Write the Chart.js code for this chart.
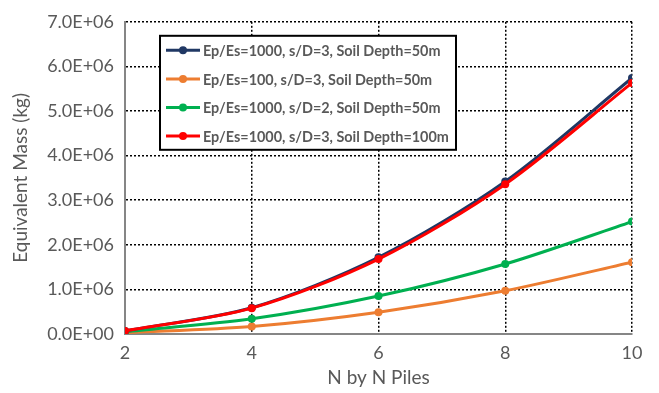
<!DOCTYPE html>
<html>
<head>
<meta charset="utf-8">
<script src="https://cdn.jsdelivr.net/npm/chart.js@4"></script>
<style>
html,body{margin:0;padding:0;background:#fff;}
#wrap{width:659px;height:393px;}
</style>
</head>
<body>
<div id="wrap"><canvas id="c" width="659" height="393"></canvas></div>
<script>
const nPiles = [2, 4, 6, 8, 10];
const seriesLabels = [
  "Ep/Es=1000, s/D=3, Soil Depth=50m",
  "Ep/Es=100, s/D=3, Soil Depth=50m",
  "Ep/Es=1000, s/D=2, Soil Depth=50m",
  "Ep/Es=1000, s/D=3, Soil Depth=100m"
];
const ep1000_sd3_50m  = [0.07e6, 0.59e6, 1.72e6, 3.42e6, 5.74e6];
const ep100_sd3_50m   = [0.03e6, 0.17e6, 0.49e6, 0.97e6, 1.61e6];
const ep1000_sd2_50m  = [0.05e6, 0.34e6, 0.85e6, 1.57e6, 2.52e6];
const ep1000_sd3_100m = [0.07e6, 0.58e6, 1.68e6, 3.36e6, 5.63e6];
const yTickValues = [0, 1e6, 2e6, 3e6, 4e6, 5e6, 6e6, 7e6];
const xTickValues = [2, 4, 6, 8, 10];

const colors = ["#203864", "#ED7D31", "#00B050", "#FF0000"];
const allSeries = [ep1000_sd3_50m, ep100_sd3_50m, ep1000_sd2_50m, ep1000_sd3_100m];
const drawOrder = [1, 3, 2, 0];

function fmtE(v){
  if (v === 0) return "0.0E+00";
  const e = Math.floor(Math.log10(Math.abs(v)) + 1e-9);
  const m = v / Math.pow(10, e);
  return m.toFixed(1) + "E" + (e >= 0 ? "+" : "-") + String(Math.abs(e)).padStart(2, "0");
}

const datasets = allSeries.map((s, i) => ({
  label: seriesLabels[i],
  data: nPiles.map((x, j) => ({x: x, y: s[j]})),
  borderColor: colors[i],
  backgroundColor: colors[i],
  borderWidth: 3,
  pointRadius: 4,
  pointHoverRadius: 4,
  pointBorderWidth: 0,
  tension: 0.3,
  order: drawOrder[i]
}));

const legendInside = {
  id: "legendInside",
  afterDatasetsDraw(chart){
    const ctx = chart.ctx;
    const ca = chart.chartArea;
    const x = ca.left + 35, y = ca.top + 14, w = 296, h = 114;
    ctx.save();
    ctx.fillStyle = "#fff";
    ctx.fillRect(x, y, w, h);
    ctx.lineWidth = 2;
    ctx.strokeStyle = "#000";
    ctx.strokeRect(x, y, w, h);
    ctx.font = "bold 14.4px Lato";
    ctx.textBaseline = "middle";
    chart.data.datasets.forEach((d, i) => {
      const cy = y + 14.5 + i * 28.6;
      ctx.strokeStyle = d.borderColor;
      ctx.lineWidth = 3;
      ctx.beginPath();
      ctx.moveTo(x + 6, cy);
      ctx.lineTo(x + 40, cy);
      ctx.stroke();
      ctx.fillStyle = d.borderColor;
      ctx.beginPath();
      ctx.arc(x + 23, cy, 4, 0, Math.PI * 2);
      ctx.fill();
      ctx.fillStyle = "#595959";
      ctx.fillText(d.label, x + 43, cy + 1);
    });
    ctx.restore();
  }
};

new Chart(document.getElementById("c"), {
  type: "line",
  data: { datasets: datasets },
  plugins: [legendInside],
  options: {
    responsive: false,
    animation: false,
    layout: { padding: { top: 12, right: 27, bottom: 0, left: 0 } },
    plugins: { legend: { display: false }, tooltip: { enabled: false } },
    scales: {
      x: {
        type: "linear",
        min: 2, max: 10,
        afterBuildTicks: (s) => { s.ticks = xTickValues.map(v => ({value: v})); },
        afterFit: (s) => { s.height = 59; },
        ticks: { color: "#595959", font: { family: "Lato", size: 18 }, padding: 8 },
        grid: { color: "#000", lineWidth: 1.5, drawTicks: false },
        border: { display: true, color: "#868686", width: 2, dash: [2, 2] },
        title: { display: true, text: "N by N Piles", color: "#595959", font: { family: "Lato", size: 19 }, padding: { top: 2 } }
      },
      y: {
        min: 0, max: 7e6,
        afterBuildTicks: (s) => { s.ticks = yTickValues.map(v => ({value: v})); },
        afterFit: (s) => { s.width = 125; },
        ticks: { color: "#595959", font: { family: "Lato", size: 18 }, padding: 11, callback: (v) => fmtE(v) },
        grid: { color: "#000", lineWidth: 1.5, drawTicks: false },
        border: { display: true, color: "#868686", width: 2, dash: [2, 2] },
        title: { display: true, text: "Equivalent Mass (kg)", color: "#595959", font: { family: "Lato", size: 19 }, padding: { top: 9, bottom: 0 } }
      }
    }
  }
});
</script>
</body>
</html>
